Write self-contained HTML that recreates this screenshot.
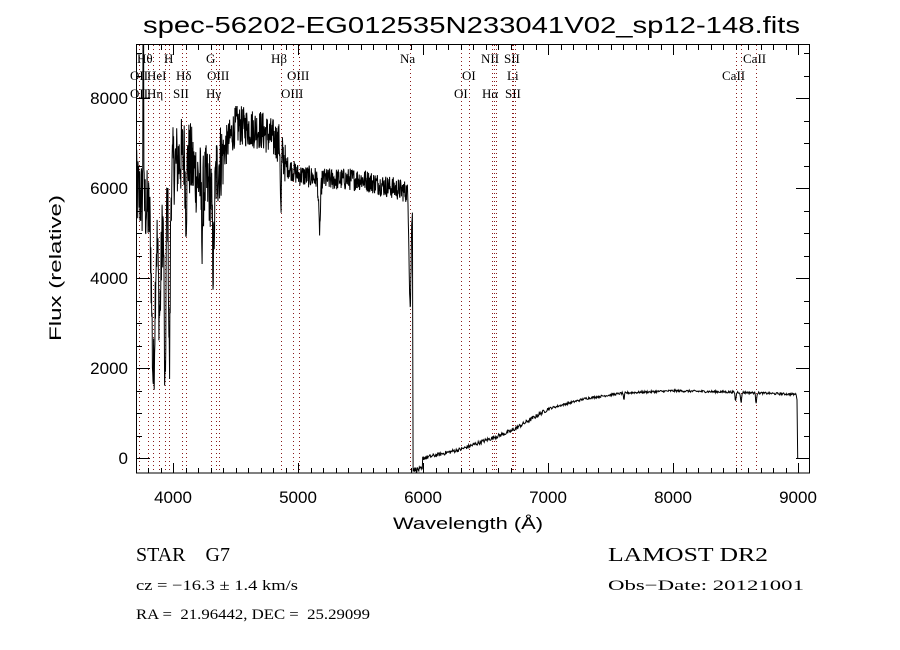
<!DOCTYPE html>
<html><head><meta charset="utf-8"><style>
html,body{margin:0;padding:0;background:#fff;width:900px;height:650px;overflow:hidden}
svg text{font-family:"Liberation Sans",sans-serif;fill:#000}
.s{font-family:"Liberation Serif",serif;font-size:13px}
</style></head><body>
<svg id="sv" width="900" height="650" xmlns="http://www.w3.org/2000/svg">
<defs><clipPath id="cp"><rect x="137" y="45" width="672" height="428"/></clipPath></defs>
<text x="143" y="33" font-size="23" textLength="657" lengthAdjust="spacingAndGlyphs">spec-56202-EG012535N233041V02_sp12-148.fits</text>
<g id="dots" stroke="#8b1a1a" stroke-width="1" stroke-dasharray="1,3"></g>
<g id="ticks" stroke="#000" stroke-width="1"></g>
<path id="spec" fill="none" stroke="#000" stroke-width="1" clip-path="url(#cp)"/>
<rect x="136.5" y="44.5" width="673" height="428.5" fill="none" stroke="#000" stroke-width="1"/>
<g font-size="17">
<text x="173" y="503" text-anchor="middle">4000</text>
<text x="298" y="503" text-anchor="middle">5000</text>
<text x="423" y="503" text-anchor="middle">6000</text>
<text x="548" y="503" text-anchor="middle">7000</text>
<text x="673" y="503" text-anchor="middle">8000</text>
<text x="798" y="503" text-anchor="middle">9000</text>
<text x="128" y="464" text-anchor="end">0</text>
<text x="128" y="374" text-anchor="end">2000</text>
<text x="128" y="284" text-anchor="end">4000</text>
<text x="128" y="194" text-anchor="end">6000</text>
<text x="128" y="104" text-anchor="end">8000</text>
</g>
<text x="468" y="529" font-size="17" text-anchor="middle" textLength="150" lengthAdjust="spacingAndGlyphs">Wavelength (Å)</text>
<text transform="translate(61,268) rotate(-90)" font-size="17" text-anchor="middle" textLength="146" lengthAdjust="spacingAndGlyphs">Flux (relative)</text>
<g class="s">
<text class="s" x="137" y="63">Hθ</text>
<text class="s" x="164" y="63">H</text>
<text class="s" x="206" y="63">G</text>
<text class="s" x="271" y="63">Hβ</text>
<text class="s" x="400" y="63">Na</text>
<text class="s" x="481" y="63">NII</text>
<text class="s" x="504" y="63">SII</text>
<text class="s" x="743" y="63">CaII</text>
<text class="s" x="130" y="80">OII</text>
<text class="s" x="147" y="80">HeI</text>
<text class="s" x="176" y="80">Hδ</text>
<text class="s" x="207" y="80">OIII</text>
<text class="s" x="287" y="80">OIII</text>
<text class="s" x="462" y="80">OI</text>
<text class="s" x="507" y="80">Li</text>
<text class="s" x="722" y="80">CaII</text>
<text class="s" x="130" y="98">OII</text>
<text class="s" x="147" y="98">Hη</text>
<text class="s" x="173" y="98">SII</text>
<text class="s" x="206" y="98">Hγ</text>
<text class="s" x="281" y="98">OIII</text>
<text class="s" x="454" y="98">OI</text>
<text class="s" x="482" y="98">Hα</text>
<text class="s" x="505" y="98">SII</text>
</g>
<g>
<text x="136" y="561" font-size="20" style="font-family:'Liberation Serif',serif">STAR&#160;&#160;&#160;&#160;G7</text>
<text x="608" y="561" font-size="20" style="font-family:'Liberation Serif',serif" textLength="160" lengthAdjust="spacingAndGlyphs">LAMOST DR2</text>
<text x="136" y="590" font-size="15" style="font-family:'Liberation Serif',serif" textLength="162" lengthAdjust="spacingAndGlyphs">cz = −16.3 ± 1.4 km/s</text>
<text x="608" y="590" font-size="15" style="font-family:'Liberation Serif',serif" textLength="196" lengthAdjust="spacingAndGlyphs">Obs−Date: 20121001</text>
<text x="136" y="619" font-size="15" style="font-family:'Liberation Serif',serif" textLength="234" lengthAdjust="spacingAndGlyphs">RA =&#160;&#160;21.96442, DEC =&#160;&#160;25.29099</text>
</g>
</svg>
<script>
var X=function(l){return 173.3+(l-4000)*0.125};
var Y=function(f){return 458.3-f*0.045};
var ns="http://www.w3.org/2000/svg";
var lines=[3727,3798,3835,3889,3934,3969,4072,4102,4305,4340,4363,4861,4959,5007,5893,6300,6364,6548,6563,6583,6708,6716,6731,8498,8542,8662];
var dg=document.getElementById('dots');
lines.forEach(function(l){var e=document.createElementNS(ns,'line');var x=Math.round(X(l))+0.5;e.setAttribute('x1',x);e.setAttribute('x2',x);e.setAttribute('y1',45);e.setAttribute('y2',473);dg.appendChild(e);});
var tg=document.getElementById('ticks');
function L(a,b,c,d){var e=document.createElementNS(ns,'line');e.setAttribute('x1',a);e.setAttribute('y1',b);e.setAttribute('x2',c);e.setAttribute('y2',d);tg.appendChild(e);}
for(var l=3800;l<=9000;l+=100){var x=Math.round(X(l))+0.5;var len=(l%1000==0)?10:5;L(x,473,x,473-len);L(x,45,x,45+len);}
for(var f=0;f<=9000;f+=500){var y=Math.round(Y(f))+0.5;var len=(f%2000==0)?13:5;L(137,y,137+len,y);L(809,y,809-len,y);}
var s=12345;function r(){s=(s*1103515245+12345)%2147483648;return s/2147483648;}
function dip(l,c,w,d){return -d*Math.exp(-(l-c)*(l-c)/(2*w*w));}
function interp(pts,l){for(var i=1;i<pts.length;i++){if(l<=pts[i][0]){var a=pts[i-1],b=pts[i];return a[1]+(b[1]-a[1])*(l-a[0])/(b[0]-a[0]);}}return pts[pts.length-1][1];}
var blue=[[3700,6000],[3900,5000],[4000,6500],[4100,6800],[4200,6200],[4300,6000],[4400,6800],[4500,7400],[4700,7300],[4850,7000],[4900,6500],[5000,6300],[5200,6200],[5500,6200],[5900,5900]];
var red=[[5995,0],[6300,200],[6700,600],[7000,1100],[7300,1330],[7600,1450],[8000,1500],[8500,1470],[8985,1420]];
var d="";
for(var l=3700;l<5915;l+=2.5){
 var f=interp(blue,l)+(r()-0.5)*(l<4400?1800:l<4900?900:500);
 f+=dip(l,3840,12,3500)+dip(l,3934,6,4300)+dip(l,3969,6,4000)+dip(l,3890,10,1800)+dip(l,4102,6,1200)+dip(l,4320,8,1800)+dip(l,4861,4,1500)+dip(l,5170,8,1100)+dip(l,4230,6,1000)+dip(l,5895,8,2500);
 if(Math.abs(l-3760)<3) f=9500;
 d+=(d?"L":"M")+X(l).toFixed(1)+","+Y(f).toFixed(1);
}
d+="L"+X(5918).toFixed(1)+","+Y(-280).toFixed(1);
for(var l=5920;l<5995;l+=4){d+="L"+X(l).toFixed(1)+","+Y(-250+(r()-0.5)*120).toFixed(1);}
for(var l=5995;l<8985;l+=4){
 var f=interp(red,l)+(r()-0.5)*(l<7000?90:50)+dip(l,7605,3,200)+dip(l,8498,4,200)+dip(l,8542,4,250)+dip(l,8662,4,220);
 d+="L"+X(l).toFixed(1)+","+Y(f).toFixed(1);
}
d+="L"+X(8990).toFixed(1)+","+Y(1300).toFixed(1)+"L"+X(8995).toFixed(1)+","+Y(0).toFixed(1)+"L"+X(9000).toFixed(1)+","+Y(0).toFixed(1);
document.getElementById('spec').setAttribute('d',d);
</script>
</body></html>
